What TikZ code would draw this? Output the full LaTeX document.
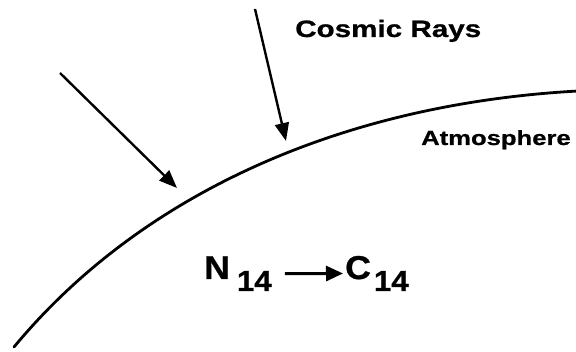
\documentclass[tikz,border=0pt]{standalone}
\usepackage{fontspec}
\setmainfont{Liberation Sans}
\newfontfamily\labfont[FakeStretch=1.25,FakeBold=0.8]{Liberation Sans}
\newfontfamily\formfont[FakeStretch=1.08,FakeBold=0.8]{Liberation Sans}
\usetikzlibrary{arrows.meta}
\tikzset{
  ray/.style={line width=2.4pt, -{Triangle[length=18pt,width=14pt]}},
  react/.style={line width=3pt, -{Triangle[length=17pt,width=15pt]}},
  lab/.style={inner sep=0pt, anchor=base west, font=\labfont\bfseries},
  chem/.style={inner sep=0pt, font=\formfont\bfseries\fontsize{33}{33}\selectfont},
  atmo/.style={line width=2.8pt, line cap=round}
}
\begin{document}
\begin{tikzpicture}[x=1pt,y=-1pt]
\useasboundingbox (0,0) rectangle (576,352);
% atmosphere curve
\draw[atmo] (14,347) .. controls (140,195) and (340,104) .. (578,91);
% labels
\node[lab, font=\labfont\bfseries\fontsize{23.7}{24}\selectfont] (cr) at (295,37) {Cosmic Rays};
\node[lab, font=\labfont\bfseries\fontsize{20.5}{21}\selectfont] (at) at (421,145) {Atmosphere};
% cosmic ray arrows
\coordinate (r1s) at (60,73);
\coordinate (r1e) at (177,188);
\coordinate (r2s) at (255,9);
\coordinate (r2e) at (286,141);
\draw[ray] (r1s) -- (r1e);
\draw[ray] (r2s) -- (r2e);
% reaction
\node[chem, anchor=base west] (n) at (204,279)
  {N\hspace{7pt}\raisebox{-12pt}{\fontsize{29}{29}\selectfont 14}};
\node[chem, anchor=base west] (c) at (345,279)
  {C\hspace{3pt}\raisebox{-12pt}{\fontsize{29}{29}\selectfont 14}};
\draw[react, shorten <=13pt, shorten >=2pt] (n.east) -- (c.west);
\end{tikzpicture}
\end{document}
